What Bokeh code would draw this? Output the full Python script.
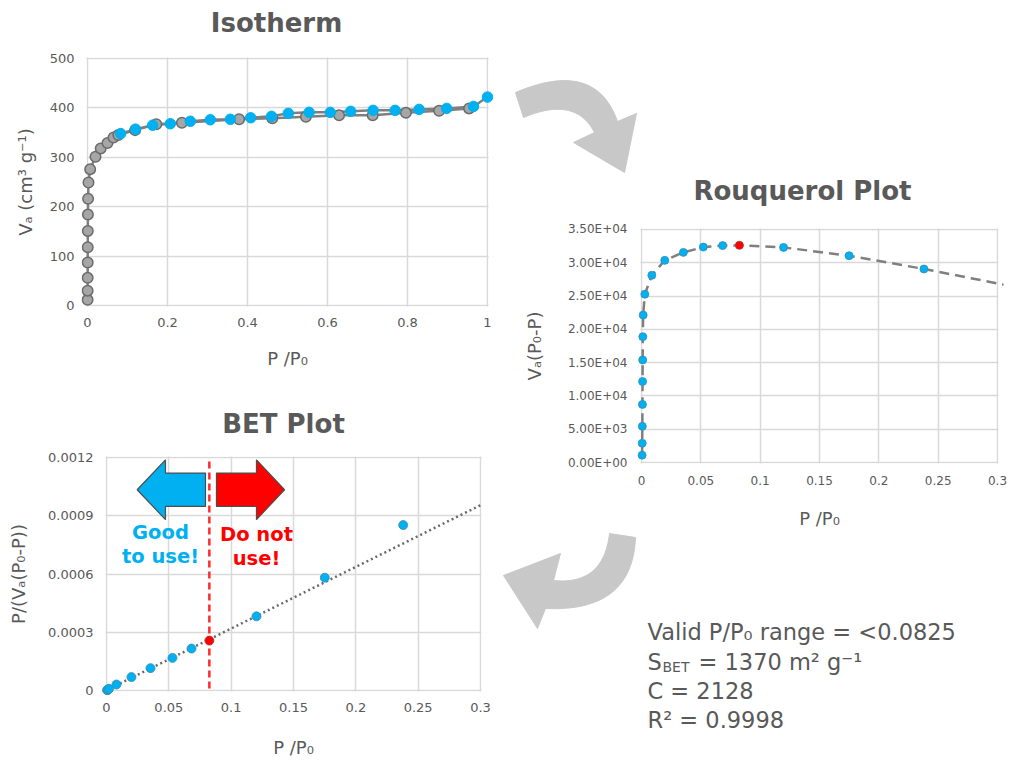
import numpy as np
from bokeh.core.properties import value
from bokeh.embed import file_html
from bokeh.layouts import column, row
from bokeh.models import (BoxAnnotation, CustomJSTickFormatter, FixedTicker,
                          NumeralTickFormatter, Range1d)
from bokeh.plotting import figure
from bokeh.resources import INLINE

# ---------------- data ----------------
# N2 isotherm, adsorption branch (grey) and desorption branch (blue)
iso_ads_p = [0.0002, 0.0003, 0.0004, 0.0005, 0.0006, 0.0008, 0.0010, 0.0015,
             0.0025, 0.0067, 0.020, 0.033, 0.050, 0.065, 0.077, 0.119, 0.172,
             0.236, 0.379, 0.462, 0.546, 0.629, 0.713, 0.796, 0.879, 0.954]
iso_ads_v = [11.5, 30, 56, 87, 118, 151, 184, 216, 249, 276, 301, 318, 329,
             340, 345, 355, 367, 370, 377, 379, 382, 385, 385, 390, 394, 399]
iso_des_p = [1.0, 0.965, 0.898, 0.829, 0.769, 0.714, 0.658, 0.607, 0.554,
             0.502, 0.460, 0.408, 0.357, 0.307, 0.257, 0.207, 0.163, 0.120,
             0.083]
iso_des_v = [422, 403, 399, 397, 395, 395, 393, 391, 391, 389, 383, 380, 377,
             376, 373, 368, 365, 357, 348]

# Rouquerol transform Va(P0-P)
rouq_p = [0.0005, 0.0006, 0.0007, 0.0008, 0.0009, 0.0010, 0.0011, 0.0014,
          0.0028, 0.0087, 0.0196, 0.0353, 0.0521, 0.0684, 0.0825, 0.1197,
          0.175, 0.238, 0.31]
rouq_v = [1100, 2890, 5430, 8730, 12170, 15410, 18900, 22140, 25280, 28120,
          30360, 31560, 32360, 32580, 32620, 32310, 31060, 29070, 26550]

# BET transform P/(Va(P0-P))
bet_p = [0.0005, 0.0008, 0.0011, 0.0014, 0.0020, 0.0080, 0.0200, 0.0353,
         0.0529, 0.0682, 0.0825, 0.1203, 0.1751, 0.2380]
bet_v = [2e-6, 3e-6, 4e-6, 5e-6, 8.6e-6, 3.1e-5, 6.9e-5, 1.15e-4, 1.68e-4,
         2.16e-4, 2.57e-4, 3.82e-4, 5.81e-4, 8.52e-4]

# BET results
cutoff = 0.0825
s_bet = 1370
c_bet = 2128
r_squared = 0.9998

iso_xticks = [0, 0.2, 0.4, 0.6, 0.8, 1]
iso_yticks = [0, 100, 200, 300, 400, 500]
rouq_xticks = [0, 0.05, 0.1, 0.15, 0.2, 0.25, 0.3]
rouq_yticks = [0, 5000, 10000, 15000, 20000, 25000, 30000, 35000]
bet_xticks = [0, 0.05, 0.1, 0.15, 0.2, 0.25, 0.3]
bet_yticks = [0, 0.0003, 0.0006, 0.0009, 0.0012]

# ---------------- style ----------------
FONT = "DejaVu Sans"
TEXT = "#595959"
BLUE = "#00b0f0"
RED = "#ff0000"
GRID = "#d9d9d9"
ARROW = "#c8c8c8"
PAD = 6  # px of breathing room so edge markers are not cut


def chart(w, h, box, xticks, yticks, xlabel, ylabel, tick_size, standoffs):
    """Plot whose data box sits at box=(left, top, right, bottom) in px."""
    left, top, right, bottom = box
    x0, x1 = xticks[0], xticks[-1]
    y0, y1 = yticks[0], yticks[-1]
    kx = (right - left) / (x1 - x0)
    ky = (bottom - top) / (y1 - y0)
    p = figure(width=w, height=h, title=None,
               x_range=Range1d(x0 - PAD / kx, x1 + PAD / kx),
               y_range=Range1d(y0 - PAD / ky, y1 + PAD / ky),
               min_border_left=left - PAD, min_border_right=w - right - PAD,
               min_border_top=top - PAD, min_border_bottom=h - bottom - PAD,
               frame_align=False,
               output_backend="svg", toolbar_location=None)
    p.outline_line_color = None
    p.background_fill_color = "white"
    p.border_fill_color = "white"
    p.xaxis.ticker = FixedTicker(ticks=xticks)
    p.yaxis.ticker = FixedTicker(ticks=yticks)
    p.xaxis.axis_label = xlabel
    p.yaxis.axis_label = ylabel
    for ax in (p.xaxis[0], p.yaxis[0]):
        ax.axis_line_color = None
        ax.major_tick_line_color = None
        ax.minor_tick_line_color = None
        ax.major_tick_in = 0
        ax.major_tick_out = 0
        ax.major_label_text_font = FONT
        ax.major_label_text_font_size = tick_size
        ax.major_label_text_color = TEXT
        ax.axis_label_text_font = FONT
        ax.axis_label_text_font_size = "18px"
        ax.axis_label_text_font_style = "normal"
        ax.axis_label_text_color = TEXT
    xs, xls, ys, yls = standoffs
    p.xaxis.major_label_standoff = xs
    p.xaxis.axis_label_standoff = xls
    p.yaxis.major_label_standoff = ys
    p.yaxis.axis_label_standoff = yls
    p.grid.grid_line_color = GRID
    p.grid.grid_line_width = 1.5
    # white strips over the padding so grid lines stop at the data box
    for edge in (dict(right=x0 - 1 / kx), dict(left=x1 + 1 / kx),
                 dict(top=y0 - 1 / ky), dict(bottom=y1 + 1 / ky)):
        p.add_layout(BoxAnnotation(fill_color="white", fill_alpha=1.0,
                                   line_color=None, level="underlay", **edge))
    return p


def canvas(x0, y0, w, h):
    """Blank panel whose data coordinates are window pixels (y down)."""
    p = figure(width=w, height=h, title=None,
               x_range=Range1d(x0, x0 + w), y_range=Range1d(y0 + h, y0),
               x_axis_type=None, y_axis_type=None, min_border=0,
               frame_align=False,
               output_backend="svg", toolbar_location=None)
    p.outline_line_color = None
    p.background_fill_color = "white"
    p.border_fill_color = "white"
    return p


def heading(p, x, y, txt):
    p.text(x=[x], y=[y], text=[txt], text_font=value(FONT),
           text_font_style="bold", text_font_size="26px", text_color=TEXT,
           text_align="center", text_baseline="middle")


def qbez(p0, c, p2, n=30):
    t = np.linspace(0, 1, n)[:, None]
    pts = (1 - t) ** 2 * np.array(p0) + 2 * (1 - t) * t * np.array(c) \
        + t ** 2 * np.array(p2)
    return pts


def curved_arrow(outer, inner, head):
    """Band between two bezier edges ending in a triangular head."""
    o = qbez(*outer)
    i = qbez(*inner)[::-1]
    b0, tip, b1 = head
    pts = np.vstack([o, [b0, tip, b1], i])
    return pts[:, 0], pts[:, 1]


def block_arrow(tail, tip, yc, body, head, head_len):
    base = tip + head_len if tip < tail else tip - head_len
    xs = [tip, base, base, tail, tail, base, base]
    ys = [yc, yc + head, yc + body, yc + body, yc - body, yc - body, yc - head]
    return xs, ys


# ---------------- isotherm ----------------
iso_title = canvas(0, 0, 500, 44)
heading(iso_title, 276, 22, "Isotherm")

iso = chart(500, 346, (87, 14, 487, 261), iso_xticks, iso_yticks,
            "P /P\u2080", "V\u2090 (cm\u00b3 g\u207b\u00b9)", "13px",
            (6, 18, 7, 11))
iso.xaxis.formatter = NumeralTickFormatter(format="0.[0]")
iso.line(iso_ads_p, iso_ads_v, line_color="#7f7f7f", line_width=2.5)
iso.line(iso_des_p, iso_des_v, line_color="#7f7f7f", line_width=2.5)
iso.scatter(iso_ads_p, iso_ads_v, size=10.5, fill_color="#a6a6a6",
            line_color="#6b6b6b", line_width=1.5)
iso.scatter(iso_des_p, iso_des_v, size=10.5, fill_color=BLUE,
            line_color=BLUE, line_width=1)

# ---------------- BET plot ----------------
bet_title = canvas(0, 390, 500, 55)
heading(bet_title, 283, 423, "BET Plot")

bet = chart(500, 317, (106, 12, 480, 245), bet_xticks, bet_yticks,
            "P /P\u2080", "P/(V\u2090(P\u2080-P))", "13px", (6, 22, 7, 16))
bet.xaxis.formatter = NumeralTickFormatter(format="0.[00]")
bet.yaxis.formatter = NumeralTickFormatter(format="0.[0000]")

# BET line from the reported monolayer capacity and C constant
v_mono = s_bet / 4.353
slope = (c_bet - 1) / (v_mono * c_bet)
intercept = 1 / (v_mono * c_bet)
fit_x = np.array([bet_xticks[0], bet_xticks[-1]])
bet.line(fit_x, slope * fit_x + intercept, line_color="#6a6a6a",
         line_width=2.5, line_dash="2 3")
bet.segment(x0=[cutoff], y0=[bet_yticks[0] + 0.00001], x1=[cutoff],
            y1=[bet_yticks[-1]], line_color="#ff2a2a", line_width=2.5,
            line_dash="7 4")

bet_in = [(p, v) for p, v in zip(bet_p, bet_v) if p != cutoff]
bet_cut = [(p, v) for p, v in zip(bet_p, bet_v) if p == cutoff]
bet.scatter([p for p, _ in bet_in], [v for _, v in bet_in], size=9,
            fill_color=BLUE, line_color="#3b8db0", line_width=0.8)
bet.scatter([p for p, _ in bet_cut], [v for _, v in bet_cut], size=9,
            fill_color=RED, line_color="#b03030", line_width=0.8)

ax_, ay_ = block_arrow(cutoff - 0.0031, 0.0246, 0.001034, 0.000086,
                       0.000154, 0.0227)
bet.patch(ax_, ay_, fill_color=BLUE, line_color="#4d4d4d", line_width=1.2)
ax_, ay_ = block_arrow(cutoff + 0.0057, 0.1428, 0.001034, 0.000086,
                       0.000154, 0.0225)
bet.patch(ax_, ay_, fill_color=RED, line_color="#4d4d4d", line_width=1.2)
bet.text(x=[0.0433, 0.0433], y=[0.000814, 0.000690],
         text=["Good", "to use!"], text_font=value(FONT),
         text_font_style="bold", text_font_size="19.5px", text_color=BLUE,
         text_align="center", text_baseline="middle")
bet.text(x=[0.1203, 0.1203], y=[0.000806, 0.000678],
         text=["Do not", "use!"], text_font=value(FONT),
         text_font_style="bold", text_font_size="19.5px", text_color=RED,
         text_align="center", text_baseline="middle")

# ---------------- right column ----------------
top_panel = canvas(500, 0, 509, 210)
tx, ty = curved_arrow(((515, 92), (595, 58), (617, 121)),
                      ((523, 117), (575, 95), (594, 132)),
                      ((636, 113), (624, 172), (573, 142)))
top_panel.patch(tx, ty, fill_color=ARROW, line_color=ARROW)
heading(top_panel, 802, 190, "Rouquerol Plot")

rouq = chart(509, 321, (141, 19, 497, 253), rouq_xticks, rouq_yticks,
             "P /P\u2080", "V\u2090(P\u2080-P)", "12px", (7, 20, 8, 20))
rouq.xaxis.formatter = NumeralTickFormatter(format="0.[00]")
rouq.yaxis.formatter = CustomJSTickFormatter(code="""
const parts = tick.toExponential(2).split('e');
const e = parseInt(parts[1]);
return parts[0] + 'E' + (e < 0 ? '-' : '+') + String(Math.abs(e)).padStart(2, '0');
""")
rouq.line(rouq_p, rouq_v, line_color="#7f7f7f", line_width=2.5,
          line_dash="10 6")
r_in = [(p, v) for p, v in zip(rouq_p, rouq_v) if p != cutoff]
r_cut = [(p, v) for p, v in zip(rouq_p, rouq_v) if p == cutoff]
rouq.scatter([p for p, _ in r_in], [v for _, v in r_in], size=8,
             fill_color=BLUE, line_color="#3b8db0", line_width=0.8)
rouq.scatter([p for p, _ in r_cut], [v for _, v in r_cut], size=8,
             fill_color=RED, line_color="#b03030", line_width=0.8)

bottom_panel = canvas(500, 531, 509, 231)
bx, by = curved_arrow(((635, 537), (632, 612), (545, 608)),
                      ((609, 533), (603, 585), (553, 580)),
                      ((537, 628), (503, 575), (560, 553)))
bottom_panel.patch(bx, by, fill_color=ARROW, line_color=ARROW)

txt = dict(text_font=value(FONT), text_font_size="22.5px", text_color=TEXT,
           text_align="left", text_baseline="alphabetic")
bottom_panel.text(x=[647, 647, 647, 647, 698],
                  y=[631, 661, 690, 719, 661],
                  text=[f"Valid P/P\u2080 range = <{cutoff}", "S",
                        f"C = {c_bet}", f"R\u00b2 = {r_squared}",
                        f"= {s_bet} m\u00b2 g\u207b\u00b9"], **txt)
bottom_panel.text(x=[662], y=[666], text=["BET"], text_font=value(FONT),
                  text_font_size="14px", text_color=TEXT, text_align="left",
                  text_baseline="alphabetic")

layout = row(column(iso_title, iso, bet_title, bet),
             column(top_panel, rouq, bottom_panel))

with open("out.html", "w") as f:
    f.write(file_html(layout, INLINE))
